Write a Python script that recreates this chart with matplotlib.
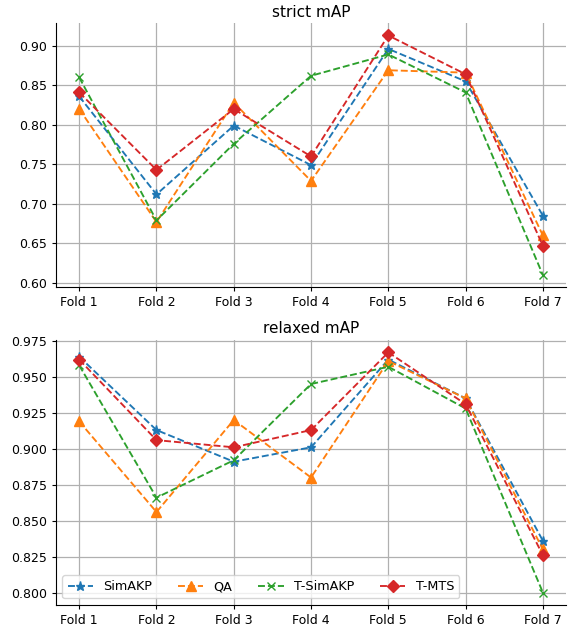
import numpy as np
import matplotlib
matplotlib.use("Agg")
import matplotlib.pyplot as plt

folds = ["Fold 1", "Fold 2", "Fold 3", "Fold 4", "Fold 5", "Fold 6", "Fold 7"]

# strict mAP
strict_simakp = [0.836, 0.712, 0.799, 0.749, 0.896, 0.855, 0.685]
strict_qa = [0.820, 0.677, 0.828, 0.729, 0.869, 0.866, 0.660]
strict_tsimakp = [0.860, 0.679, 0.776, 0.862, 0.889, 0.841, 0.610]
strict_tmts = [0.841, 0.743, 0.820, 0.760, 0.913, 0.864, 0.647]

# relaxed mAP
relax_simakp = [0.964, 0.913, 0.891, 0.901, 0.962, 0.935, 0.836]
relax_qa = [0.919, 0.856, 0.920, 0.880, 0.961, 0.935, 0.830]
relax_tsimakp = [0.958, 0.866, 0.892, 0.945, 0.957, 0.928, 0.800]
relax_tmts = [0.962, 0.906, 0.901, 0.913, 0.967, 0.931, 0.826]

names = ["SimAKP", "QA", "T-SimAKP", "T-MTS"]
markers = ["*", "^", "x", "D"]
colors = ["#1f77b4", "#ff7f0e", "#2ca02c", "#d62728"]
msizes = [6.5, 6.5, 6, 6.3]

plt.rcParams["font.size"] = 9
plt.rcParams["xtick.major.size"] = 3.2
plt.rcParams["ytick.major.size"] = 3.2

fig = plt.figure(figsize=(5.68, 6.28), dpi=100)
ax1 = fig.add_axes([0.0986, 0.543, 0.898, 0.4196])
ax2 = fig.add_axes([0.0986, 0.0373, 0.898, 0.4207])

x = np.arange(len(folds))
for ax, data, title in [(ax1, [strict_simakp, strict_qa, strict_tsimakp, strict_tmts], "strict mAP"),
                        (ax2, [relax_simakp, relax_qa, relax_tsimakp, relax_tmts], "relaxed mAP")]:
    for d, n, m, c, s in zip(data, names, markers, colors, msizes):
        ax.plot(x, d, linestyle="--", marker=m, color=c, label=n, markersize=s, linewidth=1.35)
    ax.set_xticks(x)
    ax.set_xticklabels(folds)
    ax.grid(True, color="#b0b0b0", linewidth=0.9)
    ax.spines["top"].set_visible(False)
    ax.spines["right"].set_visible(False)
    ax.set_title(title, fontsize=11, pad=5)

ax1.set_yticks([0.60, 0.65, 0.70, 0.75, 0.80, 0.85, 0.90])
ax2.set_yticks([0.800, 0.825, 0.850, 0.875, 0.900, 0.925, 0.950, 0.975])
ax2.legend(loc="lower left", ncol=4, fontsize=9.2)

fig.savefig("out.png", dpi=100)
